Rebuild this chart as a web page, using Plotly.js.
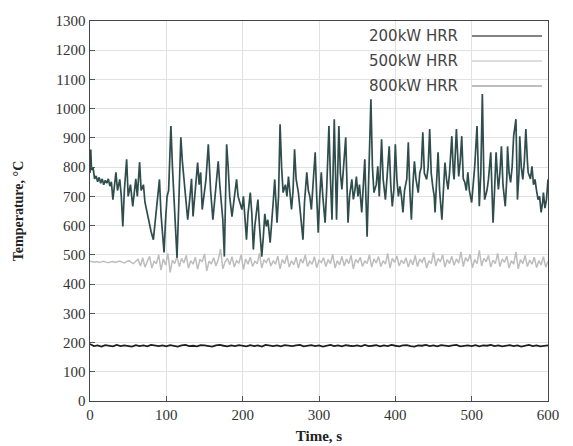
<!DOCTYPE html>
<html>
<head>
<meta charset="utf-8">
<script src="https://cdn.plot.ly/plotly-3.0.1.min.js"></script>
<style>html,body{margin:0;padding:0;background:#fff;}#chart{width:573px;height:446px;}</style>
</head>
<body>
<div id="chart"></div>
<script>
// 800 kW HRR (time s, temperature °C)
var t800 = [0,1,2,4,6,8,10,12,14,16,18,20,22,24,26,28,30,32,34,36,39,41,43,45,48,50,53,56,58,60,62,65,67,70,72,75,78,80,83,85,87,89,91,93,95,97,99,101,103,106,108,110,112,114,116,119,121,123,125,128,131,133,135,138,141,143,145,147,150,152,155,158,161,164,166,168,170,172,174,176,178,179,181,183,186,188,190,192,194,196,199,201,203,205,207,210,212,214,216,218,220,222,225,227,229,231,233,236,238,240,242,245,247,249,251,253,256,258,260,262,264,266,268,270,273,275,277,279,281,284,286,288,290,292,295,297,299,301,303,305,308,310,313,315,317,320,323,326,328,330,332,335,338,340,343,345,347,349,351,353,356,358,360,363,365,368,370,372,375,377,379,382,384,387,389,392,394,396,398,400,402,404,406,408,410,412,415,417,419,421,423,425,427,430,432,434,436,438,441,443,445,447,449,451,452,454,456,458,461,463,465,467,469,471,474,476,477,480,482,483,485,487,489,491,493,495,497,500,502,504,507,509,510,512,514,516,517,520,522,525,527,528,530,532,534,535,537,539,541,544,546,547,549,551,553,555,558,560,562,563,565,567,569,571,573,574,577,579,581,583,585,587,589,591,593,594,596,598,600];
var v800 = [780,860,790,799,760,770,750,765,745,760,740,755,745,760,735,750,689,740,782,720,758,700,597,720,827,700,740,666,720,760,700,817,720,740,680,640,600,580,552,600,650,700,758,640,580,508,620,700,720,941,800,700,560,490,650,902,820,760,700,620,700,760,631,720,816,740,782,655,720,760,878,720,620,700,760,820,740,680,620,494,700,878,800,700,631,680,720,758,700,680,655,700,620,552,640,713,640,518,600,650,689,600,494,560,640,597,620,542,600,680,758,610,700,947,800,713,740,700,768,700,655,720,861,760,713,660,600,552,680,782,720,700,655,740,851,700,576,700,782,700,610,720,941,760,620,964,620,941,780,724,800,902,610,700,758,690,720,768,700,740,645,720,827,562,740,1032,800,713,740,803,700,895,760,689,760,871,740,666,720,878,760,700,734,700,645,720,760,885,720,620,740,820,760,713,780,800,919,780,758,800,930,780,734,700,645,740,851,720,620,720,816,760,724,780,906,780,758,930,800,768,820,906,760,748,720,782,720,679,740,803,941,720,666,780,1050,760,689,720,758,851,700,610,720,851,760,724,780,871,740,666,760,871,780,748,800,906,964,689,780,906,800,758,820,930,820,782,760,803,740,758,720,689,700,645,680,713,660,689,758];

// 500 kW HRR, sampled every 3 s from 0 to 600
var v500 = [478,476,475,477,474,476,478,475,473,476,477,474,476,479,475,472,477,480,474,470,478,
485,462,490,458,480,495,455,478,470,500,448,486,465,505,440,482,470,495,460,488,
472,498,455,480,468,492,450,485,476,503,445,478,470,490,462,484,520,452,476,488,
466,494,458,480,472,500,450,486,468,492,460,478,470,505,455,482,474,490,462,480,
468,496,452,484,470,498,458,480,466,492,455,486,472,500,460,478,468,494,456,482,
474,490,460,484,470,502,455,480,466,495,462,486,470,498,452,484,474,492,460,480,
470,500,458,486,472,494,460,480,468,505,455,488,474,496,462,482,470,490,458,484,
466,498,460,486,475,492,455,480,470,508,462,488,476,500,458,484,470,495,464,486,
472,510,460,490,478,502,456,484,470,515,462,488,476,498,458,482,470,505,460,486,
474,496,455,480,468,510,452,484,470,498,460,482,468,492,456,480,466,494,458,478];
var t500 = v500.map(function(_, i){ return i * 3; });

// 200 kW HRR, sampled every 5 s from 0 to 600
var v200 = [195,188,190,186,191,189,187,192,188,190,189,186,191,188,190,187,192,189,188,190,
187,191,189,186,190,192,188,189,187,191,190,188,186,190,192,189,187,190,188,191,
189,187,191,188,190,186,192,189,188,190,187,191,189,188,190,192,187,189,191,188,
190,186,189,192,188,190,187,191,189,188,190,187,192,188,189,191,187,190,188,192,
189,187,190,191,188,186,190,189,192,188,190,187,191,189,188,190,192,187,189,190,
188,191,187,190,189,192,188,190,187,189,191,188,190,186,189,192,188,190,187,189,
190];
var t200 = v200.map(function(_, i){ return i * 5; });

var seriesNames = ['200kW HRR', '500kW HRR', '800kW HRR'];
var legendColors = ['#5a5a5a', '#d2d2d2', '#a9a9a9'];

var traces = [
  {x: t500, y: v500, type: 'scatter', mode: 'lines', name: seriesNames[1],
   line: {color: '#bdbdbd', width: 1.5}},
  {x: t200, y: v200, type: 'scatter', mode: 'lines', name: seriesNames[0],
   line: {color: '#1e1e1e', width: 1.8}},
  {x: t800, y: v800, type: 'scatter', mode: 'lines', name: seriesNames[2],
   line: {color: '#2f4d4d', width: 1.7}}
];

var legY = [0.9605, 0.8947, 0.829];
var annotations = [];
var shapes = [];
for (var i = 0; i < 3; i++) {
  annotations.push({xref: 'paper', yref: 'paper', x: 0.808, y: legY[i], xanchor: 'right', yanchor: 'middle',
    text: seriesNames[i], showarrow: false, font: {family: 'DejaVu Sans', size: 15, color: '#444'}});
  shapes.push({type: 'line', xref: 'paper', yref: 'paper', x0: 0.834, x1: 0.987, y0: legY[i], y1: legY[i],
    line: {color: legendColors[i], width: 1.5}});
}

var layout = {
  width: 573, height: 446,
  margin: {l: 90, r: 25, t: 21, b: 45},
  paper_bgcolor: '#ffffff', plot_bgcolor: '#ffffff',
  showlegend: false,
  font: {family: 'Liberation Serif', size: 15, color: '#333'},
  xaxis: {
    range: [0, 600], dtick: 100, tick0: 0,
    ticks: 'inside', ticklen: 5, tickcolor: '#555',
    showgrid: true, gridcolor: '#e2e2e2', gridwidth: 1,
    showline: true, linecolor: '#444', linewidth: 1.2, mirror: true,
    zeroline: false,
    tickfont: {family: 'Liberation Serif', size: 15, color: '#333'},
    title: {text: 'Time, s', font: {family: 'Liberation Serif', size: 15, color: '#222', weight: 'bold'}, standoff: 8}
  },
  yaxis: {
    range: [0, 1300], dtick: 100, tick0: 0,
    ticks: 'inside', ticklen: 5, tickcolor: '#555',
    showgrid: true, gridcolor: '#e2e2e2', gridwidth: 1,
    showline: true, linecolor: '#444', linewidth: 1.4, mirror: true,
    zeroline: false,
    tickfont: {family: 'Liberation Serif', size: 15, color: '#333'},
    title: {text: 'Temperature, °C', font: {family: 'Liberation Serif', size: 14, color: '#222', weight: 'bold'}, standoff: 28}
  },
  annotations: annotations,
  shapes: shapes
};

Plotly.newPlot('chart', traces, layout, {displayModeBar: false, staticPlot: true});
</script>
</body>
</html>
